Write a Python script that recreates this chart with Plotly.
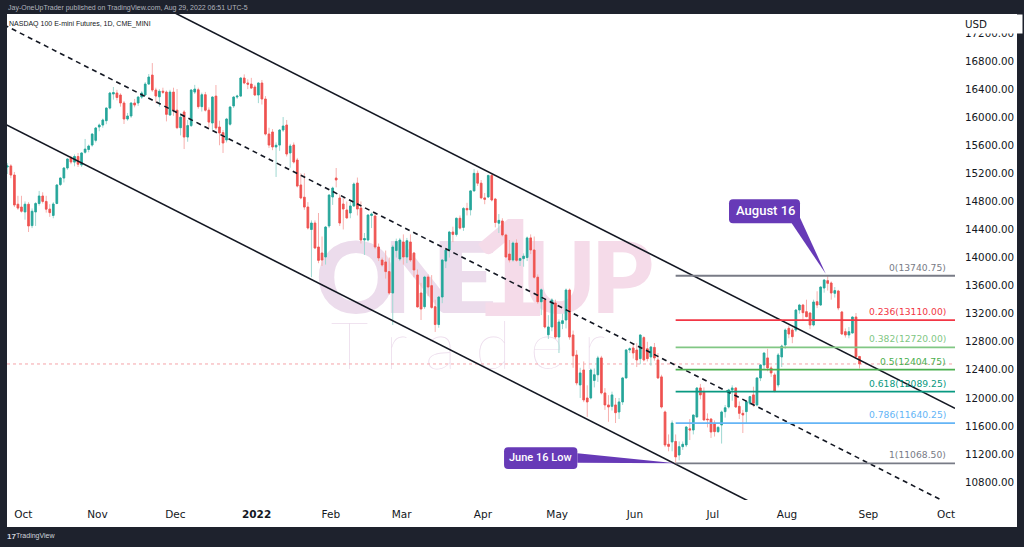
import pandas as pd
import plotly.graph_objects as go

# ---------------- DATA: daily candles (open, high, low, close) ----------------
sep21 = [(15290,15345,15190,15305),(15305,15330,15130,15176),(15176,15220,14720,14749),
         (14760,14880,14680,14705),(14720,14880,14640,14660)]
oct21 = [(14650,14800,14540,14760),(14760,14790,14364,14450),(14455,14700,14420,14660),
         (14650,14790,14450,14770),(14770,14950,14740,14877),(14877,14930,14770,14800),
         (14800,14880,14640,14690),(14690,14760,14580,14640),(14600,14790,14560,14763),
         (14770,15045,14760,15034),(15040,15145,15020,15133),(15133,15290,15070,15276),
         (15276,15415,15250,15404),(15418,15450,15330,15361),(15360,15470,15300,15440),
         (15440,15490,15290,15330),(15320,15500,15290,15490),(15500,15690,15480,15545),
         (15540,15610,15500,15589),(15603,15770,15580,15760),(15670,15860,15640,15846)]
nov21 = [(15860,15910,15800,15888),(15888,15980,15850,15960),(15950,16140,15900,16130),
         (16130,16360,16110,16344),(16330,16430,16250,16350),(16344,16390,16240,16280),
         (16316,16340,16150,16202),(16202,16230,15903,15974),(15974,16060,15950,16017),
         (16017,16210,15990,16202),(16202,16260,16140,16173),(16202,16300,16160,16287),
         (16287,16370,16260,16344),(16316,16500,16300,16472),(16472,16615,16460,16572),
         (16600,16771,16360,16387),(16387,16420,16200,16301),(16290,16400,16150,16370),
         (16370,16420,16330,16355),(16358,16380,15940,16040),(16031,16390,16020,16358),
         (16358,16420,16020,16100)]
dec21 = [(16100,16400,15830,15850),(15850,16060,15740,16000),(16074,16100,15546,15717),
         (15717,15960,15650,15880),(15880,16400,15860,16387),(16358,16460,16330,16400),
         (16390,16420,16120,16150),(16150,16350,16080,16320),(16320,16360,16080,16100),
         (16100,16140,15850,15930),(15917,16300,15820,16287),(16300,16458,15820,15846),
         (15860,15950,15600,15775),(15780,15817,15490,15632),(15675,15990,15640,15974),
         (15900,16160,15880,16145),(16160,16300,16130,16287),(16287,16320,16260,16300),
         (16301,16570,16290,16558),(16558,16610,16470,16487),(16487,16540,16400,16470),
         (16472,16560,16400,16415),(16430,16460,16300,16316)]
jan22 = [(16316,16500,16200,16487),(16487,16530,16180,16259),(16259,16300,15740,15760),
         (15760,15850,15560,15603),(15789,15830,15530,15575),(15575,15640,15148,15600),
         (15603,15830,15520,15817),(15817,16002,15790,15874),(15888,15960,15440,15475),
         (15490,15620,15280,15589),(15603,15640,15340,15361),(15390,15420,15000,15019),
         (15034,15200,14830,14849),(14860,15200,14680,14720),(14720,14790,14400,14421),
         (14400,14530,13720,14492),(14492,14530,14120,14136),(14150,14635,13920,13960),
         (14065,14300,13880,13965),(14008,14450,13900,14435),(14450,14900,14420,14891)]
feb22 = [(14863,15010,14750,14991),(15133,15276,15000,15105),(14849,14900,14450,14492),
         (14763,14850,14400,14692),(14677,14800,14560,14564),(14635,14800,14560,14735),
         (14735,15070,14720,15048),(15062,15140,14600,14692),(14706,14800,14200,14250),
         (14250,14350,14037,14270),(14250,14620,14230,14606),(14600,14640,14420,14620),
         (14592,14640,14120,14150),(14150,14200,13950,13994),(13965,14000,13870,13894),
         (13937,14100,13700,13800),(13800,14000,13470,13495),(13495,14180,13039,14150),
         (14100,14270,14000,14230),(13980,14280,13950,14250)]
mar22 = [(14222,14330,13900,14008),(14008,14280,13920,14240),(14222,14330,13937,13965),
         (14065,14080,13720,13823),(13752,13830,13290,13296),(13495,13640,13110,13267),
         (13300,13740,13270,13723),(13723,13760,13450,13580),(13600,13750,13270,13290),
         (13300,13400,12940,13046),(13046,13450,13000,13438),(13438,13980,13350,13965),
         (13950,14120,13850,14108),(14108,14380,14000,14364),(14364,14440,14220,14330),
         (14330,14570,14300,14560),(14560,14600,14400,14420),(14430,14720,14380,14700),
         (14700,14780,14600,14680),(14680,14960,14600,14950),(14950,15260,14940,15200),
         (15200,15240,15020,15060),(15060,15105,14830,14850)]
apr22 = [(14850,14920,14760,14830),(14863,15180,14850,15170),(15170,15200,14800,14820),
         (14834,14850,14430,14500),(14490,14620,14350,14530),(14521,14560,14300,14322),
         (14322,14340,14000,14008),(14050,14250,13930,13965),(13965,14230,13940,14207),
         (14207,14260,13940,13960),(13960,14000,13880,13985),(13985,14060,13870,14020),
         (14000,14300,13950,14280),(14280,14330,14050,14108),(14108,14300,13700,13720),
         (13720,13760,13340,13370),(13370,13560,13180,13540),(13396,13410,12990,13011),
         (12900,13180,12840,13011),(13011,13420,12950,13396),(13353,13400,12840,12868)]
may22 = [(12868,13120,12640,13082),(13060,13200,12980,13100),(13110,13560,12990,13538),
         (13538,13560,12830,12868),(12897,12960,12430,12600),(12612,12680,12180,12213),
         (12185,12430,12000,12356),(12398,12520,11940,11971),(11999,12180,11729,11943),
         (12000,12420,11980,12398),(12250,12420,12150,12330),(12330,12600,12228,12570),
         (12570,12600,12050,12071),(12071,12140,11830,11900),(11900,12040,11660,11871),
         (11880,12090,11820,12043),(11900,12000,11643,11790),(11800,12000,11700,11943),
         (11943,12300,11900,12285),(12285,12690,12280,12684),(12684,12720,12640,12700),
         (12712,12780,12560,12641)]
jun22 = [(12683,12780,12440,12541),(12560,12900,12480,12897),(12860,12880,12520,12541),
         (12700,12800,12520,12560),(12584,12740,12460,12726),(12720,12783,12530,12570),
         (12541,12640,12270,12285),(12300,12330,11850,11871),(11800,11820,11300,11330),
         (11340,11480,11240,11310),(11373,11680,11240,11643),(11380,11480,11068.5,11160),
         (11187,11380,11110,11306),(11306,11380,11260,11340),(11330,11600,11300,11586),
         (11560,11700,11400,11543),(11543,11760,11480,11757),(11729,12150,11720,12142),
         (12142,12200,11980,12043),(12085,12150,11680,11686),(11700,11780,11580,11690),
         (11700,11710,11430,11515)]
jul22 = [(11640,11680,11450,11520),(11520,11600,11500,11580),(11615,11820,11350,11800),
         (11805,11900,11720,11860),(11871,12130,11850,12114),(12114,12180,11960,12142),
         (12142,12150,11860,11871),(11880,11950,11700,11781),(11781,11830,11500,11757),
         (11805,11960,11640,11947),(11924,12030,11900,12019),(12043,12160,11870,11924),
         (11900,12290,11880,12285),(12285,12480,12240,12470),(12470,12650,12400,12640),
         (12570,12700,12380,12427),(12427,12460,12300,12356),(12328,12360,12080,12100),
         (12185,12640,12150,12612),(12584,12760,12440,12740),(12754,12990,12700,12968)]
aug22 = [(12992,13030,12850,12911),(12968,13000,12780,12873),(12968,13260,12940,13253),
         (13253,13340,13200,13324),(13324,13340,13100,13215),(13229,13400,13150,13158),
         (13210,13220,12980,13039),(13039,13400,13020,13367),(13371,13520,13280,13324),
         (13324,13590,13310,13580),(13566,13690,13500,13680),(13671,13740.75,13530,13633),
         (13638,13660,13400,13495),(13491,13580,13430,13529),(13524,13540,13250,13282),
         (13225,13240,12900,12911),(12944,12990,12860,12897),(12897,13010,12850,12944),
         (12925,13160,12920,13153),(13153,13210,12560,12590),(12590,12600,12420,12484)]

month_ticks = ["2021-10-01", "2021-11-01", "2021-12-01", "2022-01-03", "2022-02-01",
               "2022-03-01", "2022-04-01", "2022-05-02", "2022-06-01", "2022-07-01",
               "2022-08-01", "2022-09-01", "2022-10-03"]
month_labels = ["Oct", "Nov", "Dec", "<b>2022</b>", "Feb", "Mar", "Apr", "May", "Jun",
                "Jul", "Aug", "Sep", "Oct"]
price_ticks = list(range(10800, 17201, 400))

fib_ratios = ["0", "0.236", "0.382", "0.5", "0.618", "0.786", "1"]
fib_prices = [13740.75, 13110.00, 12720.00, 12404.75, 12089.25, 11640.25, 11068.50]
fib_colors = ["#787b86", "#f23645", "#81c784", "#4caf50", "#089981", "#64b5f6", "#787b86"]
fib_start = "2022-06-16 12:00"
fib_end = "2022-10-20 12:00"

channel_x = ["2021-09-23 12:00", "2022-10-05 12:00"]
channel_upper = [18721, 11851]
channel_mid = [17317, 10447]
channel_lower = [15909, 9039]

last_price = 12484
aug_call = ("2022-08-16 12:00", 13740.75, "August 16")
jun_call = ("2022-06-16 12:00", 11068.50, "June 16 Low")

# ---------------- build ----------------
rows = [r for m in (sep21, oct21, nov21, dec21, jan22, feb22, mar22, apr22,
                    may22, jun22, jul22, aug22) for r in m]
opens = [r[0] for r in rows]
highs = [r[1] for r in rows]
lows = [r[2] for r in rows]
closes = [r[3] for r in rows]
body_hi = [max(o, c) for o, c in zip(opens, closes)]
body_lo = [min(o, c) for o, c in zip(opens, closes)]
dates = pd.bdate_range("2021-09-24", periods=len(rows)) + pd.Timedelta(hours=12)

UP, DN = "#26a69a", "#ef5350"
UPW, DNW = "#9fd8d2", "#f7b0ae"
INK = "#131722"

L, R, T, B = 7, 69, 14, 47
W, H = 1024, 547
PW, PH = W - L - R, H - T - B
def pxx(px): return (px - L) / PW
def pxy(py): return (T + PH - py) / PH

fig = go.Figure()
fig.add_trace(go.Candlestick(
    x=dates, open=opens, high=highs, low=lows, close=closes,
    increasing=dict(line=dict(color=UPW, width=1), fillcolor=UPW),
    decreasing=dict(line=dict(color=DNW, width=1), fillcolor=DNW),
    whiskerwidth=0, hoverinfo="skip", showlegend=False))
fig.add_trace(go.Candlestick(
    x=dates, open=opens, high=body_hi, low=body_lo, close=closes,
    increasing=dict(line=dict(color=UP, width=0.8), fillcolor=UP),
    decreasing=dict(line=dict(color=DN, width=0.8), fillcolor=DN),
    whiskerwidth=0, hoverinfo="skip", showlegend=False))

for yy, dash in ((channel_upper, "solid"), (channel_lower, "solid"), (channel_mid, "5px,4px")):
    fig.add_trace(go.Scatter(x=channel_x, y=yy, mode="lines", hoverinfo="skip",
                             line=dict(color=INK, width=1.6, dash=dash), showlegend=False))

for ratio, price, col in zip(fib_ratios, fib_prices, fib_colors):
    fig.add_trace(go.Scatter(x=[fib_start, fib_end], y=[price, price], mode="lines",
                             hoverinfo="skip", line=dict(color=col, width=1.8),
                             showlegend=False))

shapes = []
# white chart panel
shapes.append(dict(type="rect", xref="paper", yref="paper", x0=pxx(7), x1=pxx(1017),
                   y0=pxy(527), y1=pxy(14), fillcolor="white", line=dict(width=0), layer="below"))
# watermark letters (below the candles)
wm = [("O", 356, 273, 100, "#ecdcec", 900), ("N", 422, 273, 100, "#ecdcec", 900),
      ("E", 468, 273, 100, "#ecdcec", 900), ("1", 509, 262, 134, "#f5dbe9", 900),
      ("U", 559, 273, 100, "#f5dbe9", 900), ("P", 622, 273, 100, "#f5dbe9", 900),
      ("T r a d e r", 468, 342, 66, "#ecdcec", 100)]
for txt, cx, cy, sz, col, wt in wm:
    shapes.append(dict(type="rect", xref="paper", yref="paper",
                       x0=pxx(cx - 150), x1=pxx(cx + 150), y0=pxy(cy + 80), y1=pxy(cy - 80),
                       line=dict(width=0), fillcolor="rgba(0,0,0,0)", layer="below",
                       label=dict(text=txt, textposition="middle center",
                                  font=dict(family="Lato", size=sz, color=col, weight=wt))))
# last price dotted line
shapes.append(dict(type="line", xref="paper", yref="y", x0=0, x1=1, y0=last_price, y1=last_price,
                   line=dict(color="#f5a3a9", width=1, dash="dot"), layer="below"))

def rrect(l, r, b, t, rad=4):
    return (f"M {l+rad},{b} L {r-rad},{b} Q {r},{b} {r},{b+rad} L {r},{t-rad} "
            f"Q {r},{t} {r-rad},{t} L {l+rad},{t} Q {l},{t} {l},{t-rad} L {l},{b+rad} "
            f"Q {l},{b} {l+rad},{b} Z")

PURPLE = "#673ab7"
for (dx, dy, _), box, tail in (
        (aug_call, (-98.7, -27.7, 52.5, 76.5), [(-36, 52.5), (-27.7, 58), (-2, 2)]),
        (jun_call, (-171.6, -98.3, -5.6, 16.1), [(-98.3, 10), (-98.3, 0.5), (0, 0)])):
    common = dict(type="path", xref="x", yref="y", xsizemode="pixel", ysizemode="pixel",
                  xanchor=dx, yanchor=dy, fillcolor=PURPLE, line=dict(width=0), layer="above")
    shapes.append(dict(path=rrect(*box), **common))
    tp = "M " + " L ".join(f"{a},{b}" for a, b in tail) + " Z"
    shapes.append(dict(path=tp, **common))

ann = []
ann.append(dict(text="Jay-OneUpTrader published on TradingView.com, Aug 29, 2022 06:51 UTC-5",
                xref="paper", yref="paper", x=pxx(6), y=pxy(8), xanchor="left", yanchor="middle",
                showarrow=False, font=dict(family="Liberation Sans", size=7, color="#b2b5be")))
ann.append(dict(text="NASDAQ 100 E-mini Futures, 1D, CME_MINI",
                xref="paper", yref="paper", x=pxx(7), y=pxy(24), xanchor="left", yanchor="middle",
                showarrow=False, font=dict(family="Liberation Sans", size=7, color=INK)))
ann.append(dict(text="<b>17</b>", xref="paper", yref="paper", x=pxx(5), y=pxy(536),
                xanchor="left", yanchor="middle", showarrow=False,
                font=dict(family="Liberation Sans", size=8, color="#d1d4dc")))
ann.append(dict(text="TradingView", xref="paper", yref="paper", x=pxx(14), y=pxy(536),
                xanchor="left", yanchor="middle", showarrow=False,
                font=dict(family="Liberation Sans", size=7, color="#d1d4dc")))
ann.append(dict(text="USD", xref="paper", yref="paper", x=pxx(961), y=pxy(24),
                xanchor="left", yanchor="middle", showarrow=False, width=54, align="left",
                bgcolor="white", borderpad=3,
                font=dict(family="DejaVu Sans", size=10.3, color=INK)))
for ratio, price, col in zip(fib_ratios, fib_prices, fib_colors):
    ann.append(dict(text=f"{ratio}({price:.2f})", xref="paper", yref="y", x=pxx(948), y=price,
                    xanchor="right", yanchor="bottom", yshift=1, showarrow=False,
                    font=dict(family="DejaVu Sans", size=9.2, color=col)))
for (dx, dy, txt), xs, ys, fs in ((aug_call, -62.7, 64.8, 13), (jun_call, -134.9, 5.4, 11)):
    ann.append(dict(text=txt, xref="x", yref="y", x=dx, y=dy, xshift=xs, yshift=ys,
                    showarrow=False, xanchor="center", yanchor="middle",
                    font=dict(family="Roboto", size=fs, color="white", weight=500)))

fig.update_layout(
    width=W, height=H, autosize=False,
    margin=dict(l=L, r=R, t=T, b=B, pad=0),
    paper_bgcolor="#1e222d", plot_bgcolor="rgba(0,0,0,0)",
    showlegend=False, hovermode=False, boxgap=0.35,
    shapes=shapes, annotations=ann,
    xaxis=dict(type="date", range=["2021-09-24 09:50", "2022-10-05 12:00"],
               rangebreaks=[dict(bounds=["sat", "mon"])],
               rangeslider=dict(visible=False),
               tickvals=month_ticks, ticktext=month_labels, ticks="",
               showgrid=False, zeroline=False, showline=False, ticklabelstandoff=6,
               tickfont=dict(family="DejaVu Sans", size=10.5, color=INK)),
    yaxis=dict(side="right", range=[10546, 17470], tickvals=price_ticks,
               ticktext=[f"{v:.2f}" for v in price_ticks], ticks="",
               showgrid=False, zeroline=False, showline=False, ticklabelstandoff=9,
               tickfont=dict(family="DejaVu Sans", size=10.3, color=INK)),
)

fig.write_html("out.html", config={"displayModeBar": False, "staticPlot": True},
               post_script="document.body.style.margin='0';document.body.style.background='#1e222d';")
